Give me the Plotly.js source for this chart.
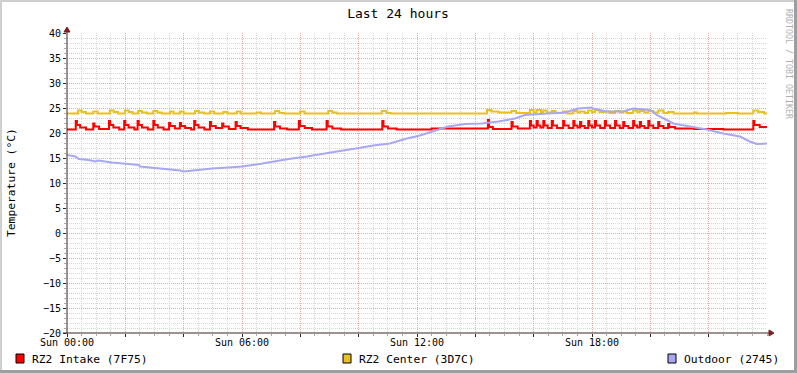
<!DOCTYPE html>
<html>
<head>
<meta charset="utf-8">
<script src="https://cdn.plot.ly/plotly-3.0.1.min.js"></script>
<style>html,body{margin:0;padding:0;background:#fff;}#chart{width:797px;height:373px;}</style>
</head>
<body>
<div id="chart"></div>
<script>
// ---- data (hours since Sun 00:00, °C) ----
const intakeT = [0,
  0.30,0.34,0.45,0.65, 0.90,0.94,1.10, 1.44,1.48,1.59,1.79, 1.96,2.00,2.11,2.31, 2.42,2.46,2.57,2.77,
  2.96,3.00,3.11,3.31, 3.50,3.54,3.70, 3.87,3.91,4.05,4.25, 4.36,4.40,4.51,4.71, 4.90,4.94,5.10,
  5.32,5.36,5.55, 5.78,5.82,5.95,6.20, 7.10,7.14,7.30,7.55, 7.95,7.99,8.15,8.40, 8.90,8.94,9.10,9.40,
  10.81,10.85,11.00,11.30, 12.50, 14.43,14.47,14.60, 15.24,15.28,15.45,
  15.87,15.91,16.00, 16.10,16.14,16.23, 16.33,16.37,16.48, 16.62,16.66,16.80, 17.01,17.05,17.20,
  17.36,17.40,17.50, 17.59,17.63,17.75, 17.87,17.91,18.00, 18.10,18.14,18.28, 18.44,18.48,18.62,
  18.79,18.83,18.95, 19.07,19.11,19.25, 19.41,19.45,19.55, 19.64,19.68,19.80, 19.93,19.97,20.10,
  20.27,20.31,20.45, 20.61,20.65,20.85, 21.50, 22.50, 23.53,23.57,23.75, 24.00];
const intakeV = [20.7,
  22.4,21.6,21.1,20.7, 21.9,21.3,20.8, 22.4,21.6,21.1,20.7, 22.4,21.6,21.1,20.7, 22.4,21.6,21.1,20.7,
  22.4,21.6,21.1,20.7, 22.0,21.4,20.9, 22.0,21.4,21.0,20.7, 22.4,21.6,21.1,20.7, 22.2,21.4,21.0,
  21.9,21.3,20.8, 22.2,21.4,21.0,20.7, 22.2,21.3,20.9,20.7, 22.4,21.4,21.0,20.7, 22.4,21.3,20.9,20.7,
  22.4,21.3,20.9,20.7, 20.9, 22.6,21.2,20.8, 22.2,21.3,20.9,
  22.4,21.5,21.1, 22.4,21.5,21.1, 22.4,21.5,21.0, 22.4,21.5,21.0, 22.4,21.5,21.0,
  22.4,21.5,21.1, 22.2,21.4,21.0, 22.4,21.5,21.1, 22.4,21.5,21.0, 22.4,21.5,21.0,
  22.4,21.5,21.0, 22.2,21.4,21.0, 22.4,21.5,21.1, 22.2,21.4,21.0, 22.4,21.5,21.0,
  22.2,21.4,21.0, 21.8,21.2,20.9, 20.8, 20.7, 22.4,21.6,21.2, 21.0];

const centerT = [0,0.38,0.50,0.65,0.90,1.05,1.47,1.60,1.75,1.99,2.12,2.25,2.44,2.57,2.75,2.96,3.10,3.25,3.53,3.65,3.87,4.00,4.39,4.52,4.70,4.90,5.05,5.36,5.50,5.82,5.95,6.50,6.65,7.13,7.28,7.45,7.99,8.15,8.96,9.10,9.25,10.79,10.95,11.10,13.00,14.40,14.55,14.80,15.24,15.40,15.87,16.00,16.10,16.25,16.33,16.45,16.62,16.75,17.01,17.15,17.36,17.50,17.59,17.75,17.87,18.00,18.10,18.25,18.44,18.60,18.79,18.95,19.07,19.20,19.41,19.55,19.64,19.80,19.93,20.10,20.27,20.45,20.61,20.80,21.50,21.60,22.60,23.00,23.53,23.70,23.90,24.00];
const centerV = [23.9,24.5,24.2,23.9,24.3,23.9,24.5,24.2,23.9,24.5,24.2,23.9,24.4,24.1,23.9,24.4,24.1,23.9,24.3,23.9,24.3,23.9,24.4,24.1,23.9,24.3,23.9,24.2,23.9,24.3,23.9,24.1,23.9,24.4,24.0,23.9,24.3,23.9,24.4,24.1,23.9,24.4,24.0,23.9,23.9,24.6,24.3,24.1,24.4,24.0,24.6,24.1,24.6,24.1,24.5,24.1,24.4,24.0,24.3,23.9,24.4,24.1,24.3,24.0,24.5,24.2,24.6,24.2,24.3,24.0,24.4,24.1,24.3,24.0,24.5,24.2,24.4,24.1,24.4,24.1,24.5,24.0,24.2,23.9,24.1,23.9,24.0,23.9,24.5,24.2,23.9,24.1];

const outdoorT = [0,0.29,0.40,0.74,0.97,1.09,1.54,2.00,2.46,2.51,3.26,3.88,4.00,4.40,4.97,5.54,6.00,6.50,7.07,7.60,8.22,8.80,9.36,9.90,10.50,11.07,11.65,12.10,12.50,13.07,13.65,14.22,14.79,15.36,15.70,16.50,17.07,17.53,17.99,18.04,18.50,19.07,19.41,20.00,20.22,20.56,20.79,21.36,21.93,22.50,23.07,23.41,23.65,24.00];
const outdoorV = [15.6,15.3,14.8,14.6,14.3,14.5,14.1,13.8,13.6,13.3,12.9,12.5,12.3,12.6,12.9,13.1,13.3,13.7,14.3,14.8,15.3,15.8,16.4,16.9,17.5,17.9,18.9,19.5,20.3,21.3,21.8,21.9,22.3,22.9,23.6,23.9,24.1,24.9,25.1,24.9,24.3,24.3,24.9,24.6,23.6,22.6,21.9,21.3,20.7,19.9,19.3,18.3,17.8,17.9];

const seriesNames = ['RZ2 Intake (7F75)', 'RZ2 Center (3D7C)', 'Outdoor (2745)'];
const seriesColors = ['#ff0000', '#e8c020', '#a8a8f2'];
const xTickVals = [0,2,4,6,8,10,12,14,16,18,20,22];
const xTickText = ['Sun 00:00','','','Sun 06:00','','','Sun 12:00','','','Sun 18:00','',''];

// ---- layout helpers (pixel -> paper) ----
const L = 67, T = 33, W = 700, H = 300;
const px = x => (x - L) / W;
const py = y => (T + H - y) / H;
const FONT = 'DejaVu Sans Mono';

const traces = [
  {x: intakeT, y: intakeV, name: seriesNames[0], mode: 'lines', line: {color: seriesColors[0], width: 2, shape: 'hv'}},
  {x: centerT, y: centerV, name: seriesNames[1], mode: 'lines', line: {color: seriesColors[1], width: 2, shape: 'hv'}},
  {x: outdoorT, y: outdoorV, name: seriesNames[2], mode: 'lines', line: {color: seriesColors[2], width: 2}}
];

const shapes = [];
const annotations = [];
const axisCol = '#3a2525';
shapes.push({type: 'line', xref: 'paper', yref: 'paper', x0: px(67), x1: px(67), y0: py(334), y1: py(30), line: {color: axisCol, width: 1}});
shapes.push({type: 'line', xref: 'paper', yref: 'paper', x0: px(63), x1: px(770), y0: py(333), y1: py(333), line: {color: axisCol, width: 1}});
const arrowCol = '#801f1f';
shapes.push({type: 'path', xref: 'paper', yref: 'paper', fillcolor: arrowCol, line: {color: arrowCol, width: 1},
  path: `M ${px(64)} ${py(32)} L ${px(70)} ${py(32)} L ${px(67)} ${py(27)} Z`});
shapes.push({type: 'path', xref: 'paper', yref: 'paper', fillcolor: arrowCol, line: {color: arrowCol, width: 1},
  path: `M ${px(769)} ${py(330)} L ${px(769)} ${py(336)} L ${px(774)} ${py(333)} Z`});
shapes.push({type: 'rect', xref: 'paper', yref: 'paper', x0: px(0), x1: px(797), y0: py(0), y1: py(2), fillcolor: '#cfcfcf', line: {width: 0}});
shapes.push({type: 'rect', xref: 'paper', yref: 'paper', x0: px(0), x1: px(2), y0: py(0), y1: py(373), fillcolor: '#cfcfcf', line: {width: 0}});
shapes.push({type: 'rect', xref: 'paper', yref: 'paper', x0: px(794), x1: px(797), y0: py(0), y1: py(373), fillcolor: '#9e9e9e', line: {width: 0}});
shapes.push({type: 'rect', xref: 'paper', yref: 'paper', x0: px(0), x1: px(797), y0: py(370), y1: py(373), fillcolor: '#9e9e9e', line: {width: 0}});

const legendX = [16, 343, 668];
for (let i = 0; i < 3; i++) {
  const x0 = legendX[i];
  shapes.push({type: 'rect', xref: 'paper', yref: 'paper', x0: px(x0), x1: px(x0 + 8), y0: py(363), y1: py(354),
    fillcolor: seriesColors[i], line: {color: '#000', width: 1}});
  annotations.push({xref: 'paper', yref: 'paper', x: px(x0 + 14), y: py(359), xanchor: 'left', yanchor: 'middle',
    text: seriesNames[i], showarrow: false, font: {family: FONT, size: 11.3, color: '#000'}});
}
annotations.push({xref: 'paper', yref: 'paper', x: px(11), y: py(183), xanchor: 'center', yanchor: 'middle',
  text: 'Temperature (°C)', textangle: -90, showarrow: false, font: {family: FONT, size: 11.3, color: '#000'}});
annotations.push({xref: 'paper', yref: 'paper', x: px(789), y: py(7), xanchor: 'center', yanchor: 'top',
  text: 'RRDTOOL / TOBI OETIKER', textangle: 90, showarrow: false, font: {family: FONT, size: 8.3, color: '#b0b0b0'}});

const layout = {
  width: 797, height: 373,
  margin: {l: L, r: 797 - L - W, t: T, b: 373 - T - H, pad: 0},
  paper_bgcolor: '#ffffff', plot_bgcolor: '#ffffff',
  showlegend: false,
  font: {family: FONT, size: 10, color: '#000'},
  title: {text: 'Last 24 hours', x: 398 / 797, xanchor: 'center', xref: 'container', y: 1 - 13 / 373, yanchor: 'middle', yref: 'container',
    font: {family: FONT, size: 13, color: '#000'}},
  xaxis: {range: [0, 24], tickmode: 'array', tickvals: xTickVals, ticktext: xTickText,
    showgrid: true, gridcolor: '#e8a8a8', griddash: '1px,1px', gridwidth: 1, zeroline: false, showline: false,
    ticks: 'outside', ticklen: 3, tickcolor: axisCol, ticklabelstandoff: -3, tickfont: {family: FONT, size: 10, color: '#000'},
    minor: {dtick: 0.5, showgrid: true, gridcolor: '#d6d6d6', griddash: '1px,1px', ticks: 'outside', ticklen: 2, tickcolor: '#aaa'},
    fixedrange: true},
  yaxis: {range: [-20, 40], dtick: 5, tick0: 0,
    showgrid: true, gridcolor: '#e8a8a8', griddash: '1px,1px', gridwidth: 1, zeroline: false, showline: false,
    ticks: 'outside', ticklen: 3, tickcolor: axisCol, tickfont: {family: FONT, size: 10, color: '#000'},
    minor: {dtick: 1, showgrid: true, gridcolor: '#d6d6d6', griddash: '1px,1px', ticks: 'outside', ticklen: 2, tickcolor: '#aaa'},
    fixedrange: true},
  shapes: shapes,
  annotations: annotations
};

Plotly.newPlot('chart', traces, layout, {displayModeBar: false, staticPlot: true});
</script>
</body>
</html>
